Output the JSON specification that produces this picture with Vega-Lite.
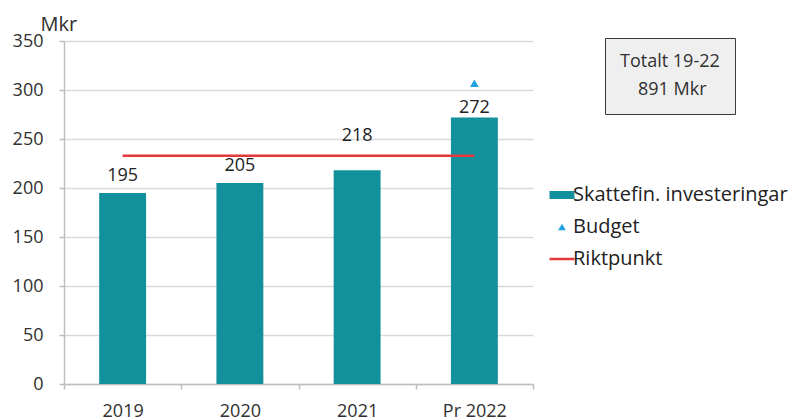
{
  "$schema": "https://vega.github.io/schema/vega-lite/v6.json",
  "autosize": "none",
  "width": 469,
  "height": 343,
  "padding": {"left": 64, "top": 41, "right": 260, "bottom": 36},
  "background": "white",
  "config": {"font": "Open Sans", "view": {"stroke": null}},
  "datasets": {
    "bars": [
      {"year": "2019", "value": 195},
      {"year": "2020", "value": 205},
      {"year": "2021", "value": 218},
      {"year": "Pr 2022", "value": 272}
    ],
    "budget": [
      {"year": "Pr 2022", "budget": 307}
    ],
    "rikt": [
      {"year": "2019", "rikt": 233},
      {"year": "2020", "rikt": 233},
      {"year": "2021", "rikt": 233},
      {"year": "Pr 2022", "rikt": 233}
    ],
    "total": [
      {"total": "891 Mkr"}
    ]
  },
  "encoding": {
    "x": {
      "field": "year", "type": "nominal", "sort": null,
      "scale": {"domain": ["2019", "2020", "2021", "Pr 2022"], "paddingInner": 0, "paddingOuter": 0},
      "axis": {
        "title": null, "labelAngle": 0, "labelFontSize": 18, "labelColor": "#303030",
        "labelPadding": 13, "tickBand": "extent", "tickSize": 5,
        "domainColor": "#bfbfbf", "tickColor": "#bfbfbf", "domainWidth": 1.5, "tickWidth": 1.5
      }
    }
  },
  "layer": [
    {
      "data": {"name": "bars"},
      "mark": {"type": "bar", "width": {"band": 0.4}},
      "encoding": {
        "y": {
          "field": "value", "type": "quantitative",
          "scale": {"domain": [0, 350], "nice": false},
          "axis": {
            "values": [0, 50, 100, 150, 200, 250, 300, 350],
            "title": "Mkr", "titleAngle": 0, "titleAlign": "left", "titleBaseline": "alphabetic",
            "titleX": -24, "titleY": -11, "titleFontSize": 20, "titleFontWeight": "normal", "titleColor": "#303030",
            "labelFontSize": 18, "labelColor": "#303030", "labelPadding": 16,
            "grid": true, "gridColor": "#d9d9d9", "gridWidth": 1.5,
            "domainColor": "#bfbfbf", "tickColor": "#bfbfbf", "tickSize": 5, "domainWidth": 1.5, "tickWidth": 1.5
          }
        },
        "color": {
          "datum": "Skattefin. investeringar",
          "scale": {
            "domain": ["Skattefin. investeringar", "Budget", "Riktpunkt"],
            "range": ["#12909c", "#1fa3e3", "#e5383b"]
          },
          "legend": {
            "title": null, "orient": "none", "legendX": 488, "legendY": 144,
            "labelFontSize": 20, "labelColor": "#222222", "labelOffset": 1, "labelLimit": 400,
            "rowPadding": 12, "padding": 0,
            "encode": {
              "symbols": {
                "update": {
                  "shape": {"signal": "datum.value === 'Budget' ? 'triangle-up' : datum.value === 'Riktpunkt' ? 'stroke' : 'M-1,-0.32H1V0.32H-1Z'"},
                  "size": {"signal": "datum.value === 'Budget' ? 60 : 625"},
                  "fill": {"signal": "datum.value === 'Riktpunkt' ? 'transparent' : scale('color', datum.value)"},
                  "stroke": {"signal": "scale('color', datum.value)"},
                  "strokeWidth": {"signal": "datum.value === 'Riktpunkt' ? 2.5 : 0"},
                  "opacity": {"value": 1},
                  "fillOpacity": {"value": 1},
                  "strokeOpacity": {"value": 1}
                }
              }
            }
          }
        }
      }
    },
    {
      "data": {"name": "rikt"},
      "mark": {"type": "line", "strokeWidth": 2.5},
      "encoding": {
        "y": {"field": "rikt", "type": "quantitative"},
        "color": {"datum": "Riktpunkt"}
      }
    },
    {
      "data": {"name": "budget"},
      "mark": {"type": "point", "shape": "triangle-up", "filled": true, "size": 75, "opacity": 1},
      "encoding": {
        "y": {"field": "budget", "type": "quantitative"},
        "color": {"datum": "Budget"}
      }
    },
    {
      "data": {"name": "bars"},
      "transform": [{"filter": "datum.year === '2019' || datum.year === '2020'"}],
      "mark": {"type": "text", "fontSize": 18, "color": "#222222", "baseline": "alphabetic", "dy": -12},
      "encoding": {
        "y": {"field": "value", "type": "quantitative"},
        "text": {"field": "value", "type": "quantitative"}
      }
    },
    {
      "data": {"name": "bars"},
      "transform": [{"filter": "datum.year === '2021'"}],
      "mark": {"type": "text", "fontSize": 18, "color": "#222222", "baseline": "alphabetic", "dy": -29},
      "encoding": {
        "y": {"field": "value", "type": "quantitative"},
        "text": {"field": "value", "type": "quantitative"}
      }
    },
    {
      "data": {"name": "bars"},
      "transform": [{"filter": "datum.year === 'Pr 2022'"}],
      "mark": {"type": "text", "fontSize": 18, "color": "#222222", "baseline": "alphabetic", "dy": -4},
      "encoding": {
        "y": {"field": "value", "type": "quantitative"},
        "text": {"field": "value", "type": "quantitative"}
      }
    },
    {
      "data": {"name": "total"},
      "mark": {"type": "point", "opacity": 0},
      "encoding": {
        "x": {"value": 0},
        "y": {"value": 0},
        "shape": {
          "field": "total", "type": "nominal",
          "legend": {
            "title": "Totalt 19-22", "orient": "none", "legendX": 541, "legendY": -3,
            "titleFontSize": 18, "titleFontWeight": "normal", "titleColor": "#303030", "titlePadding": 10,
            "labelFontSize": 18, "labelColor": "#303030", "labelOffset": 0,
            "symbolSize": 0, "symbolOpacity": 0,
            "padding": 15, "strokeColor": "#3a3a3a", "fillColor": "#efefef",
            "encode": {"legend": {"update": {"strokeWidth": {"value": 2}}}}
          }
        }
      }
    }
  ]
}
